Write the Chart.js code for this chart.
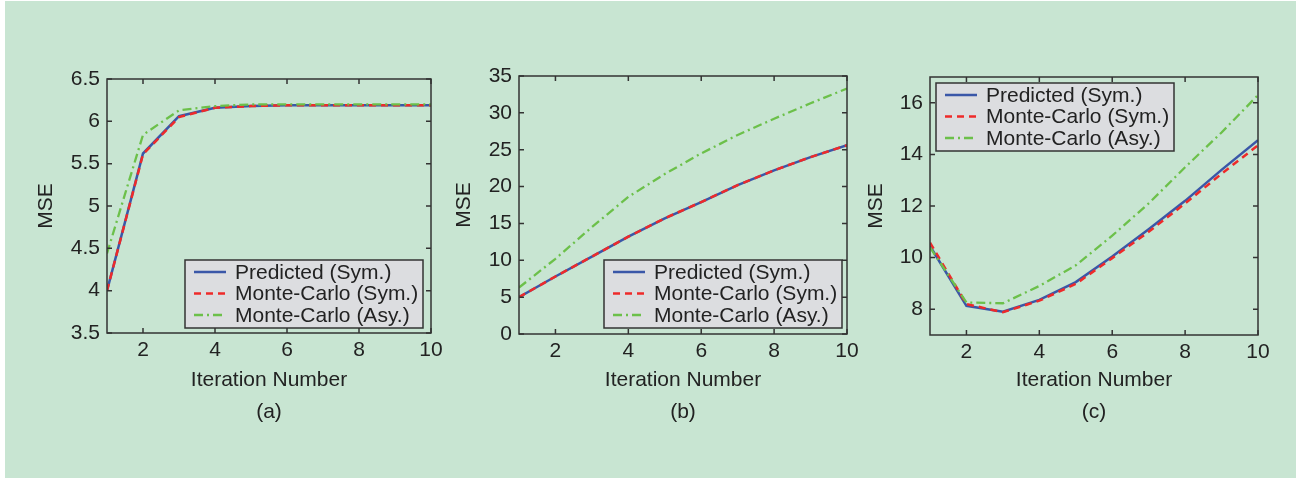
<!DOCTYPE html>
<html>
<head>
<meta charset="utf-8">
<script src="https://cdn.jsdelivr.net/npm/chart.js@4.4.1/dist/chart.umd.min.js"></script>
<style>
  body { margin: 0; width: 1301px; height: 483px; background: #fff; position: relative; overflow: hidden; }
  #bg { position: absolute; left: 5px; top: 1px; width: 1291px; height: 477px; background: #c8e5d2; }
  canvas { position: absolute; }
</style>
</head>
<body>
<div id="bg"></div>
<canvas id="chartA" width="450" height="400" style="left:10px;top:40px"></canvas>
<canvas id="chartB" width="450" height="400" style="left:440px;top:40px"></canvas>
<canvas id="chartC" width="440" height="400" style="left:860px;top:40px"></canvas>
<script>
const iterations = [1, 2, 3, 4, 5, 6, 7, 8, 9, 10];
const xTicks = [2, 4, 6, 8, 10];
const seriesNames = ["Predicted (Sym.)", "Monte-Carlo (Sym.)", "Monte-Carlo (Asy.)"];

// (a)
const predA  = [4.0, 5.62, 6.06, 6.16, 6.18, 6.19, 6.19, 6.19, 6.19, 6.19];
const mcSymA = [4.0, 5.61, 6.05, 6.16, 6.18, 6.19, 6.19, 6.19, 6.19, 6.19];
const mcAsyA = [4.44, 5.84, 6.13, 6.18, 6.2, 6.2, 6.2, 6.2, 6.2, 6.2];
const yTicksA = [3.5, 4, 4.5, 5, 5.5, 6, 6.5];

// (b)
const predB  = [5.0, 7.8, 10.5, 13.2, 15.7, 17.9, 20.2, 22.2, 24.0, 25.6];
const mcSymB = [5.0, 7.8, 10.5, 13.2, 15.7, 17.9, 20.2, 22.2, 24.0, 25.6];
const mcAsyB = [6.3, 10.2, 14.5, 18.6, 21.7, 24.5, 27.0, 29.2, 31.3, 33.3];
const yTicksB = [0, 5, 10, 15, 20, 25, 30, 35];

// (c)
const predC  = [10.45, 8.13, 7.9, 8.36, 9.05, 10.04, 11.1, 12.2, 13.4, 14.55];
const mcSymC = [10.58, 8.2, 7.88, 8.33, 8.98, 9.98, 11.0, 12.1, 13.25, 14.35];
const mcAsyC = [10.4, 8.26, 8.23, 8.9, 9.7, 10.85, 12.1, 13.5, 14.85, 16.3];
const yTicksC = [8, 10, 12, 14, 16];

const FONT = '"Liberation Sans", Arial, sans-serif';
const FS = 21;
Chart.defaults.font.family = FONT;
Chart.defaults.color = '#222';

// box around the plot with inward ticks, matlab style
const frame = {
  id: 'frame',
  afterDatasetsDraw(chart) {
    const { ctx, chartArea: a, scales: { x, y } } = chart;
    ctx.save();
    ctx.strokeStyle = '#333';
    ctx.lineWidth = 1.5;
    ctx.beginPath();
    x.ticks.forEach(t => {
      const px = x.getPixelForValue(t.value);
      ctx.moveTo(px, a.bottom); ctx.lineTo(px, a.bottom - 5);
      ctx.moveTo(px, a.top); ctx.lineTo(px, a.top + 5);
    });
    y.ticks.forEach(t => {
      const py = y.getPixelForValue(t.value);
      ctx.moveTo(a.left, py); ctx.lineTo(a.left + 5, py);
      ctx.moveTo(a.right, py); ctx.lineTo(a.right - 5, py);
    });
    ctx.stroke();
    ctx.strokeRect(a.left, a.top, a.right - a.left, a.bottom - a.top);
    ctx.restore();
  }
};

// legend box drawn inside the plot
const boxLegend = {
  id: 'boxLegend',
  afterDraw(chart, args, opts) {
    const { ctx, chartArea: a } = chart;
    const w = 238, h = 68;
    const left = opts.corner === 'tl' ? a.left + opts.inX : a.right - opts.inX - w;
    const top = opts.corner === 'tl' ? a.top + opts.inY : a.bottom - opts.inY - h;
    ctx.save();
    ctx.fillStyle = '#dcdde0';
    ctx.fillRect(left, top, w, h);
    ctx.strokeStyle = '#333';
    ctx.lineWidth = 1.5;
    ctx.strokeRect(left, top, w, h);
    ctx.font = FS + 'px ' + FONT;
    ctx.textBaseline = 'middle';
    chart.data.datasets.forEach((ds, i) => {
      const ry = top + 12 + i * 21.5;
      ctx.beginPath();
      ctx.setLineDash(ds.borderDash || []);
      ctx.strokeStyle = ds.borderColor;
      ctx.lineWidth = ds.borderWidth;
      ctx.moveTo(left + 9, ry);
      ctx.lineTo(left + 41, ry);
      ctx.stroke();
      ctx.setLineDash([]);
      ctx.fillStyle = '#222';
      ctx.fillText(ds.label, left + 50, ry + 1);
    });
    ctx.restore();
  }
};

function makeChart(id, cfg) {
  return new Chart(document.getElementById(id), {
    type: 'line',
    data: {
      labels: iterations,
      datasets: [
        { label: seriesNames[0], data: cfg.pred, borderColor: '#3a57a8', borderWidth: 2.5, order: 3 },
        { label: seriesNames[1], data: cfg.mcSym, borderColor: '#ee2a2a', borderWidth: 2.5, borderDash: [7, 5], order: 2 },
        { label: seriesNames[2], data: cfg.mcAsy, borderColor: '#6cc04a', borderWidth: 2.3, borderDash: [9, 4, 2, 4], order: 1 }
      ]
    },
    options: {
      responsive: false,
      animation: false,
      devicePixelRatio: 1,
      elements: { point: { radius: 0 }, line: { tension: 0 } },
      layout: { padding: { top: cfg.padTop, right: cfg.padRight, left: 0, bottom: cfg.padBottom } },
      scales: {
        x: {
          type: 'linear', min: 1, max: 10,
          grid: { display: false, drawTicks: false },
          border: { display: false },
          ticks: { padding: 5, font: { size: FS } },
          afterBuildTicks: s => { s.ticks = xTicks.map(v => ({ value: v })); },
          afterFit: s => { s.height = 100; s.paddingLeft = 0; s.paddingRight = 0; },
          title: {
            display: true, text: ['Iteration Number', cfg.tag],
            font: { size: FS, lineHeight: 1.52 }, padding: { top: 0, bottom: cfg.titlePad }
          }
        },
        y: {
          min: cfg.yMin, max: cfg.yMax,
          grid: { display: false, drawTicks: false },
          border: { display: false },
          ticks: { padding: 7, font: { size: FS }, callback: v => String(v) },
          afterBuildTicks: s => { s.ticks = cfg.yTicks.map(v => ({ value: v })); },
          afterFit: s => { s.width = cfg.yWidth; s.paddingTop = 0; s.paddingBottom = 0; },
          title: { display: true, text: 'MSE', font: { size: FS }, padding: { top: cfg.msePad, bottom: 0 } }
        }
      },
      plugins: {
        legend: { display: false },
        tooltip: { enabled: false },
        boxLegend: cfg.legend
      }
    },
    plugins: [frame, boxLegend]
  });
}

makeChart('chartA', {
  pred: predA, mcSym: mcSymA, mcAsy: mcAsyA, yTicks: yTicksA, yMin: 3.5, yMax: 6.5, tag: '(a)',
  padTop: 39, padRight: 29, padBottom: 7, yWidth: 97, msePad: 24, titlePad: 5,
  legend: { corner: 'br', inX: 8, inY: 5 }
});
makeChart('chartB', {
  pred: predB, mcSym: mcSymB, mcAsy: mcAsyB, yTicks: yTicksB, yMin: 0, yMax: 35, tag: '(b)',
  padTop: 36, padRight: 43, padBottom: 6, yWidth: 79, msePad: 12, titlePad: 6,
  legend: { corner: 'br', inX: 5, inY: 6 }
});
makeChart('chartC', {
  pred: predC, mcSym: mcSymC, mcAsy: mcAsyC, yTicks: yTicksC, yMin: 7, yMax: 17, tag: '(c)',
  padTop: 37, padRight: 42, padBottom: 5, yWidth: 70, msePad: 4, titlePad: 7,
  legend: { corner: 'tl', inX: 6, inY: 6 }
});
</script>
</body>
</html>
